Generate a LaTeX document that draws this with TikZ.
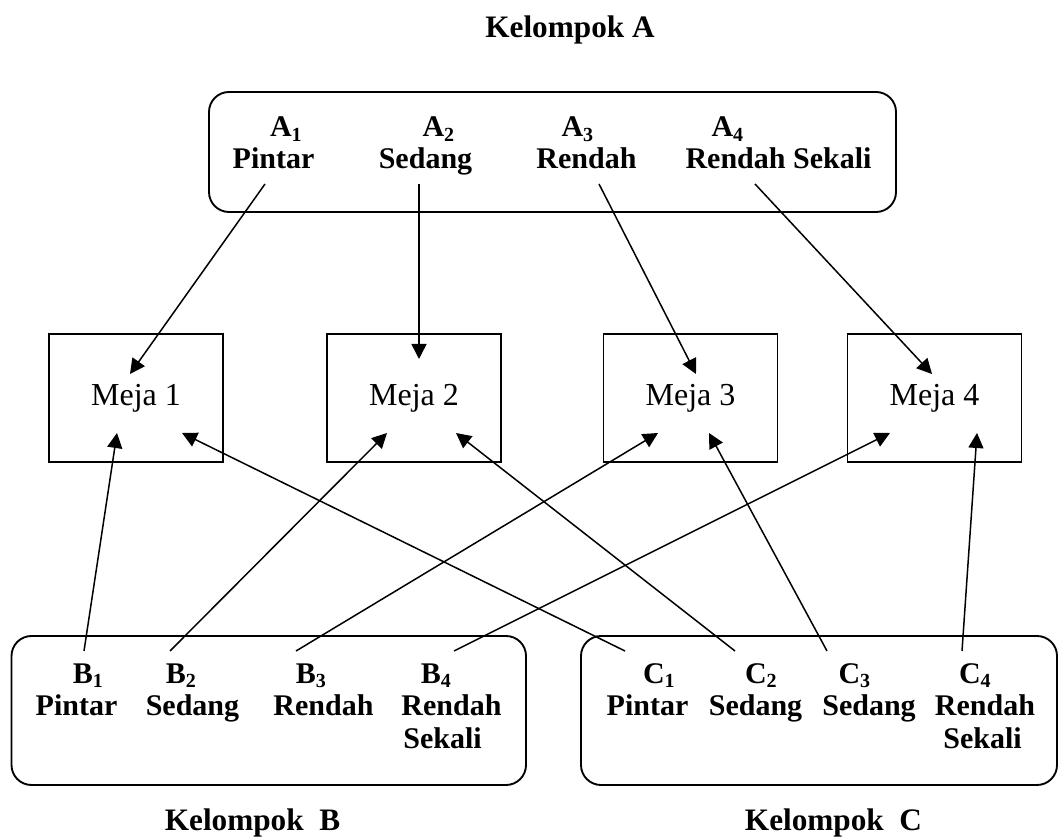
\documentclass[tikz,border=0pt]{standalone}
\usepackage{fontspec}
\setmainfont{Liberation Serif}
\usetikzlibrary{arrows.meta,calc}

\begin{document}
\begin{tikzpicture}[
  x=0.4pt, y=-0.4pt,
  lbl/.style={font=\fontsize{12}{14}\selectfont\bfseries, inner sep=0pt, anchor=base},
  ttl/.style={font=\fontsize{12.5}{15}\selectfont\bfseries, inner sep=0pt, anchor=base},
  meja/.style={draw, line width=0.75pt, minimum width=69.6pt, minimum height=51.2pt, inner sep=0pt, font=\fontsize{12.8}{15}\selectfont},
  grp/.style={draw, rounded corners=8pt, line width=0.75pt, inner sep=0pt},
  arr/.style={-{Triangle[length=6pt,width=6pt]}, line width=0.6pt}
]
\useasboundingbox (0,0) rectangle (1059,837);

% group boxes
\node[grp, minimum width=274.8pt, minimum height=48pt] (ga) at (552.5,152) {};
\node[grp, minimum width=205.8pt, minimum height=59.6pt] (gb) at (268.75,710.5) {};
\node[grp, minimum width=190.4pt, minimum height=59.6pt] (gc) at (819,710.5) {};

\node[ttl] (ta) at (570,38) {Kelompok A};
\node[ttl] (tb) at (252.5,830) {Kelompok~~B};
\node[ttl] (tc) at (833.5,830) {Kelompok~~C};

% kelompok A
\node[lbl] (a1) at (286.5,137) {A\textsubscript{1}};
\node[lbl] (a2) at (439,137) {A\textsubscript{2}};
\node[lbl] (a3) at (578,137) {A\textsubscript{3}};
\node[lbl] (a4) at (728,137) {A\textsubscript{4}};
\node[lbl] (a1n) at (273.5,169) {Pintar};
\node[lbl] (a2n) at (425.5,169) {Sedang};
\node[lbl] (a3n) at (586.5,169) {Rendah};
\node[lbl] (a4n) at (778.5,169) {Rendah Sekali};

% meja
\node[meja] (m1) at (136,398) {Meja 1};
\node[meja] (m2) at (414,398) {Meja 2};
\node[meja] (m3) at (690.5,398) {Meja 3};
\node[meja] (m4) at (934.5,398) {Meja 4};

% kelompok B
\node[lbl] (b1) at (88.5,683) {B\textsubscript{1}};
\node[lbl] (b2) at (181.5,683) {B\textsubscript{2}};
\node[lbl] (b3) at (311.5,683) {B\textsubscript{3}};
\node[lbl] (b4) at (436.5,683) {B\textsubscript{4}};
\node[lbl] (b1n) at (76.5,715) {Pintar};
\node[lbl] (b2n) at (192.5,715) {Sedang};
\node[lbl] (b3n) at (323.5,715) {Rendah};
\node[lbl] (b4n) at (451.5,715) {Rendah};
\node[lbl] (b4s) at (442.5,748) {Sekali};

% kelompok C
\node[lbl] (c1) at (659.5,683) {C\textsubscript{1}};
\node[lbl] (c2) at (761.5,683) {C\textsubscript{2}};
\node[lbl] (c3) at (855,683) {C\textsubscript{3}};
\node[lbl] (c4) at (975.5,683) {C\textsubscript{4}};
\node[lbl] (c1n) at (647.5,715) {Pintar};
\node[lbl] (c2n) at (755.5,715) {Sedang};
\node[lbl] (c3n) at (869,715) {Sedang};
\node[lbl] (c4n) at (985,715) {Rendah};
\node[lbl] (c4s) at (982.5,748) {Sekali};

% A ke meja
\draw[arr] ($(a1n.base)+(-8.5,15)$) -- ($(m1)+(-6,-24)$);
\draw[arr] ($(a2n.base)+(-6.5,15)$) -- ($(m2)+(5,-39)$);
\draw[arr] ($(a3n.base)+(12.5,15)$) -- ($(m3)+(5.5,-24)$);
\draw[arr] ($(a4n.base)+(-23.5,15)$) -- ($(m4)+(-2.5,-24)$);

% B dan C ke meja
\draw[arr] ($(b1.base)+(-4.5,-32)$) -- ($(m1)+(-19,35)$);
\draw[arr] ($(c1.base)+(-34.5,-32)$) -- ($(m1)+(46,35)$);
\draw[arr] ($(b2.base)+(-11.5,-32)$) -- ($(m2)+(-27,35)$);
\draw[arr] ($(c2.base)+(-26.5,-32)$) -- ($(m2)+(42,35)$);
\draw[arr] ($(b3.base)+(-15.5,-32)$) -- ($(m3)+(-32.5,35)$);
\draw[arr] ($(c3.base)+(-28,-32)$) -- ($(m3)+(18.5,35)$);
\draw[arr] ($(b4.base)+(17.5,-32)$) -- ($(m4)+(-44.5,35)$);
\draw[arr] ($(c4.base)+(-13.5,-32)$) -- ($(m4)+(42.5,35)$);
\end{tikzpicture}
\end{document}
